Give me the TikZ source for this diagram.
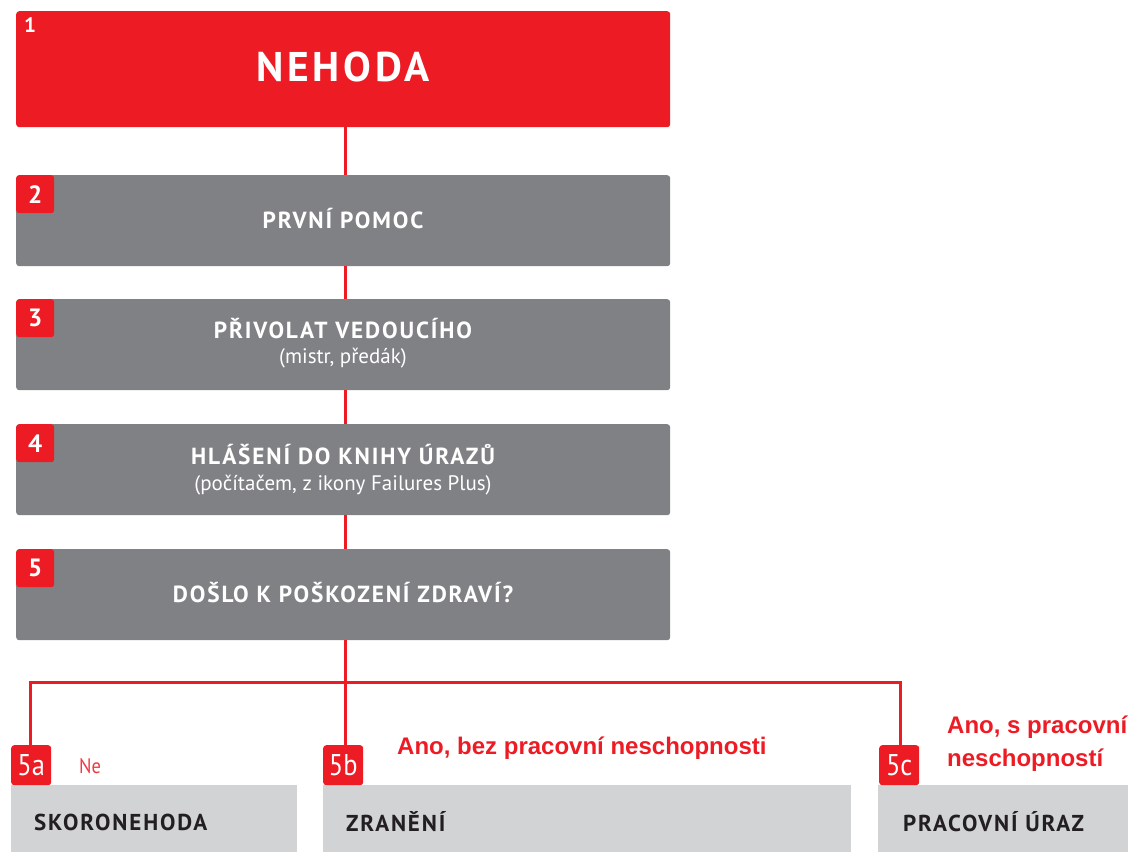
\documentclass[tikz,border=0pt]{standalone}
\usepackage{fontspec}
\setmainfont{PT Sans}
\newfontfamily\titlefont[LetterSpace=8]{PT Sans}
\newfontfamily\condfont[FakeStretch=0.88]{PT Sans}
\newfontfamily\arialfont{Liberation Sans}
\definecolor{cred}{HTML}{ED1C24}
\definecolor{cgray}{HTML}{808184}
\definecolor{clight}{HTML}{D1D3D4}
\definecolor{cdark}{HTML}{231F20}
\definecolor{cne}{HTML}{EE3A43}
\tikzset{
  mainbox/.style={fill=cgray, rounded corners=3pt, anchor=north west, minimum width=654pt, minimum height=91pt, inner sep=0pt},
  redbox/.style={fill=cred, rounded corners=3pt, anchor=north west, minimum width=654pt, minimum height=116pt, inner sep=0pt},
  badge/.style={fill=cred, rounded corners=3pt, anchor=north west, minimum width=38pt, minimum height=38pt, inner sep=0pt, text=white, font=\bfseries\fontsize{25}{25}\selectfont},
  subbadge/.style={fill=cred, rounded corners=3pt, anchor=north west, minimum width=40pt, minimum height=40pt, inner sep=0pt, text=white, font=\condfont\fontsize{30}{30}\selectfont},
  lowbox/.style={fill=clight, anchor=north west, minimum height=67pt, inner sep=0pt},
  title/.style={text=white, font=\titlefont\bfseries\fontsize{23.3}{23.3}\selectfont},
  subtitle/.style={text=white, font=\fontsize{21}{21}\selectfont},
  lowtitle/.style={text=cdark, anchor=west, inner sep=0pt, font=\titlefont\bfseries\fontsize{23}{23}\selectfont},
  anolabel/.style={text=cred, anchor=west, inner sep=0pt, align=left, font=\arialfont\bfseries\fontsize{24}{33}\selectfont},
  conn/.style={draw=cred, line width=3pt}
}
\begin{document}
\begin{tikzpicture}[x=1pt,y=-1pt]
\useasboundingbox (0,0) rectangle (1136,852);
% main column
\node[redbox] (b1) at (16,11) {};
\node[text=white, font=\bfseries\fontsize{21}{21}\selectfont] (n1) at (30,25) {1};
\node[text=white, font=\bfseries\fontsize{41.5}{41.5}\selectfont\addfontfeatures{LetterSpace=9}] (t1) at (343,67) {NEHODA};

\node[mainbox] (b2) at (16,175) {};
\node[badge] (n2) at (16,175) {2};
\node[title] (t2) at (343,219) {PRVNÍ POMOC};

\node[mainbox] (b3) at (16,299) {};
\node[badge] (n3) at (16,299) {3};
\node[title] (t3) at (343,329) {PŘIVOLAT VEDOUCÍHO};
\node[subtitle] (s3) at (343,358) {(mistr, předák)};

\node[mainbox] (b4) at (16,424) {};
\node[badge] (n4) at (16,424) {4};
\node[title] (t4) at (343,455) {HLÁŠENÍ DO KNIHY ÚRAZŮ};
\node[subtitle] (s4) at (343,485) {(počítačem, z ikony Failures Plus)};

\node[mainbox] (b5) at (16,549) {};
\node[badge] (n5) at (16,549) {5};
\node[title] (t5) at (343,593) {DOŠLO K POŠKOZENÍ ZDRAVÍ?};

% lower boxes
\node[lowbox, minimum width=286pt] (l5a) at (11,785) {};
\node[lowbox, minimum width=528pt] (l5b) at (323,785) {};
\node[lowbox, minimum width=250pt] (l5c) at (878,785) {};
\node[lowtitle] (tl5a) at (34,822) {SKORONEHODA};
\node[lowtitle] (tl5b) at (346,822) {ZRANĚNÍ};
\node[lowtitle] (tl5c) at (903,822) {PRACOVNÍ ÚRAZ};

\node[subbadge] (n5a) at (11,745) {5a};
\node[subbadge] (n5b) at (323,745) {5b};
\node[subbadge] (n5c) at (879,745) {5c};

\node[text=cne, anchor=west, inner sep=0pt, font=\condfont\fontsize{21}{21}\selectfont] (ne) at (79,766) {Ne};
\node[anolabel] (ano1) at (397,748) {Ano, bez pracovní neschopnosti};
\node[anolabel] (ano2) at (947,744) {Ano, s pracovní\\neschopností};

% connectors
\coordinate (j) at (345,682);
\draw[conn] (b1.south -| j) -- (b2.north -| j);
\draw[conn] (b2.south -| j) -- (b3.north -| j);
\draw[conn] (b3.south -| j) -- (b4.north -| j);
\draw[conn] (b4.south -| j) -- (b5.north -| j);
\draw[conn] (b5.south -| j) -- (j) -- (j |- n5b.north);
\draw[conn] (j) -- (900,682) coordinate (jr) -- (jr |- n5c.north);
\draw[conn] (j) -- (30,682) coordinate (jl) -- (jl |- n5a.north);
\end{tikzpicture}
\end{document}
